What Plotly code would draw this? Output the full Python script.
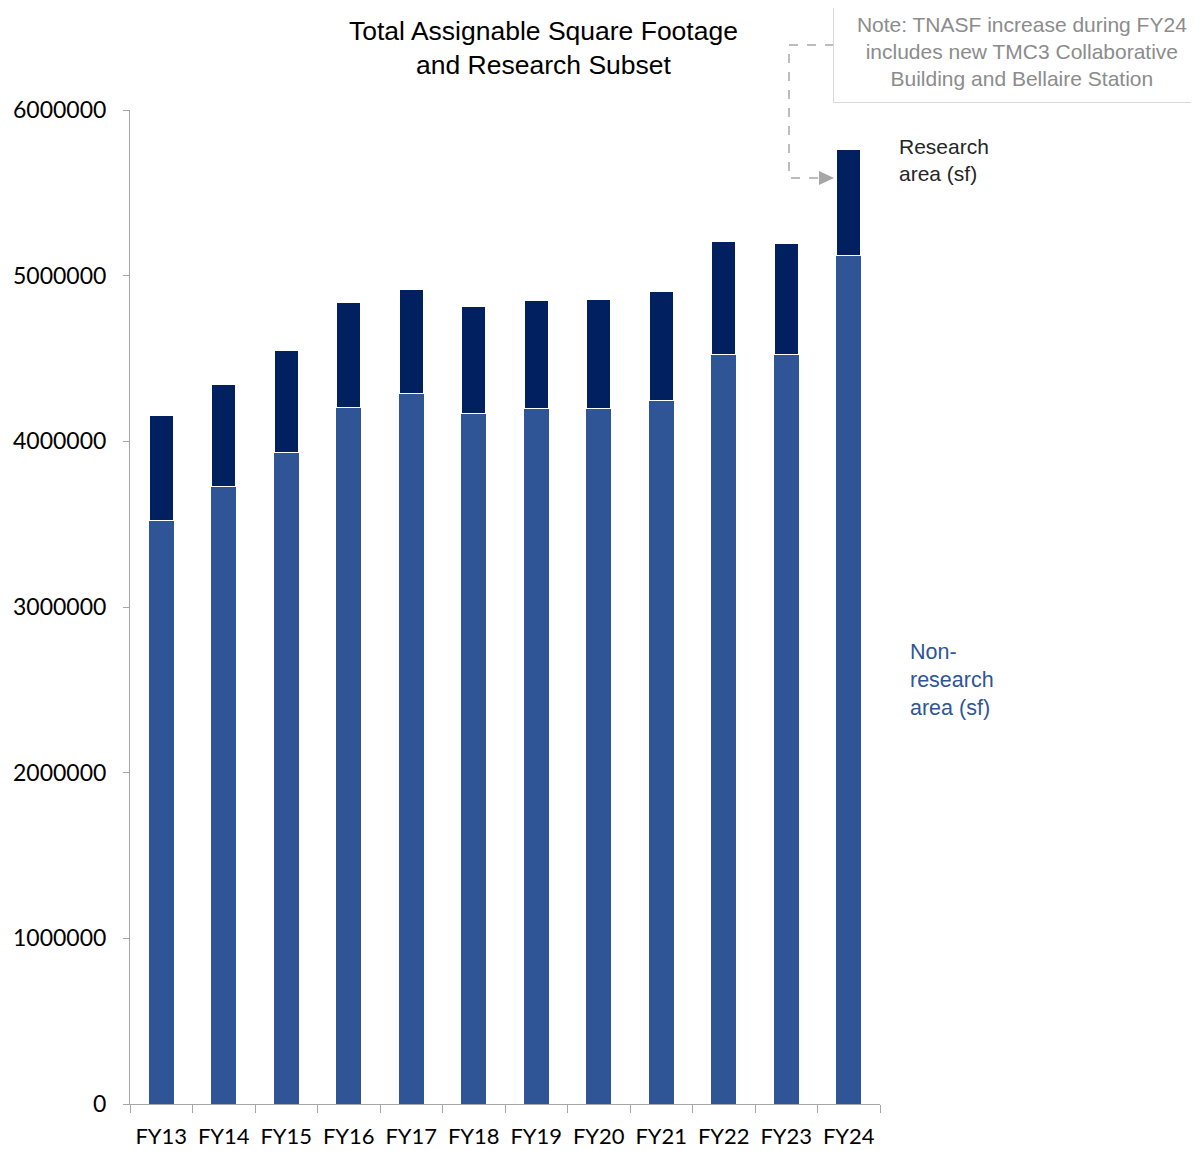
import plotly.graph_objects as go

years = ["FY13", "FY14", "FY15", "FY16", "FY17", "FY18",
         "FY19", "FY20", "FY21", "FY22", "FY23", "FY24"]
non_research = [3525000, 3730000, 3934000, 4207000, 4288000, 4169000,
                4199000, 4199000, 4245000, 4523000, 4527000, 5119000]
research = [628000, 616000, 617000, 632000, 627000, 642000,
            654000, 658000, 660000, 682000, 670000, 645000]

NAVY = "#002060"
BLUE = "#2F5597"
GREY = "#A6A6A6"

fig = go.Figure()
fig.add_trace(go.Bar(x=years, y=non_research, name="Non-research area (sf)",
                     marker=dict(color=BLUE, line=dict(color="white", width=1)),
                     width=0.42))
fig.add_trace(go.Bar(x=years, y=research, name="Research area (sf)",
                     marker=dict(color=NAVY, line=dict(color="white", width=1)),
                     width=0.38))


# helpers: page pixel -> paper coords (plot area 130..880 x, 110..1104 y)
def px(x):
    return (x - 130) / 750


def py(y):
    return (1104 - y) / 994


# page has an 8px body margin, so figure is shrunk by that much
fig.update_layout(
    barmode="stack",
    width=1191, height=1143,
    margin=dict(l=122, r=319, t=102, b=47),
    plot_bgcolor="white", paper_bgcolor="white",
    showlegend=False,
    bargap=0.5,
    font=dict(family="Lato, Carlito, sans-serif", size=22, color="black"),
)
fig.update_yaxes(range=[0, 6000000], dtick=1000000, tickformat="d",
                 showgrid=False, zeroline=False, automargin=False,
                 showline=True, linecolor=GREY, linewidth=1,
                 ticks="outside", ticklen=6, tickcolor=GREY,
                 ticklabelstandoff=12,
                 tickfont=dict(family="Lato, Carlito, sans-serif", size=23))
fig.update_xaxes(showline=True, linecolor=GREY, linewidth=1, automargin=False,
                 ticks="outside", ticklen=8, tickcolor=GREY,
                 tickson="boundaries", ticklabelstandoff=13,
                 tickfont=dict(family="Lato, Carlito, sans-serif", size=22))

fig.add_annotation(text="Total Assignable Square Footage<br>and Research Subset",
                   xref="paper", yref="paper", x=px(543), y=py(48),
                   xanchor="center", yanchor="middle", showarrow=False,
                   font=dict(family="Liberation Sans, Arial", size=26.5, color="black"))
fig.add_annotation(text="Research<br>area (sf)", xref="paper", yref="paper",
                   x=px(897), y=py(160), xanchor="left", yanchor="middle",
                   align="left", showarrow=False,
                   font=dict(family="Liberation Sans, Arial", size=21, color="#262626"))
fig.add_annotation(text="Non-<br>research<br>area (sf)", xref="paper", yref="paper",
                   x=px(908), y=py(680), xanchor="left", yanchor="middle",
                   align="left", showarrow=False,
                   font=dict(family="Liberation Sans, Arial", size=21.5, color=BLUE))
fig.add_annotation(text="Note: TNASF increase during FY24<br>includes new TMC3 Collaborative<br>Building and Bellaire Station",
                   xref="paper", yref="paper", x=px(1022), y=py(52),
                   xanchor="center", yanchor="middle", showarrow=False,
                   width=372, height=97, borderpad=2,
                   bordercolor="#D9D9D9", borderwidth=1, bgcolor="white",
                   font=dict(family="Liberation Sans, Arial", size=21, color="#8C8C8C"))

# dashed connector to FY24 bar
fig.add_shape(type="path", xref="paper", yref="paper",
              path=f"M {px(834)},{py(45)} L {px(789)},{py(45)} L {px(789)},{py(178)} L {px(820)},{py(178)}",
              line=dict(color=GREY, width=1.5, dash="dash"))
fig.add_shape(type="path", xref="paper", yref="paper",
              path=f"M {px(819)},{py(171)} L {px(834)},{py(178)} L {px(819)},{py(185)} Z",
              fillcolor=GREY, line=dict(color=GREY, width=0))

fig.write_html("out.html")
